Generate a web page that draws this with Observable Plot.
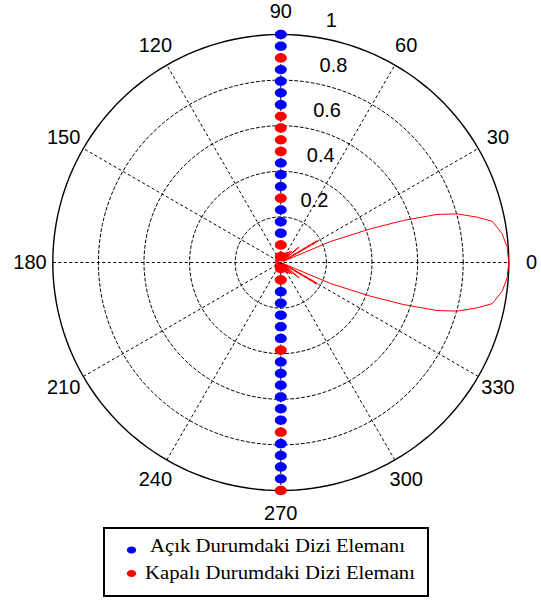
<!DOCTYPE html>
<html><head><meta charset="utf-8">
<script src="https://cdn.jsdelivr.net/npm/d3@7"></script>
<script src="https://cdn.jsdelivr.net/npm/@observablehq/plot@0.6"></script>
<style>
body{margin:0;background:#fff;}
#chart{position:relative;width:541px;height:600px;background:#fff;}
#legend{position:absolute;left:0;top:520px;}
</style></head><body><div id="chart"></div>
<script>
// ---- data ----
const angleTicks = [0, 30, 60, 90, 120, 150, 180, 210, 240, 270, 300, 330];
const radiusTicks = [0.2, 0.4, 0.6, 0.8, 1];
// radiation pattern, upper half (degrees, normalized radius); pattern is symmetric about 0°
const patternAngle = [0, 3.9, 7.4, 11.0, 13.0, 15.4, 17.1, 18.9, 20.6, 22.9, 24.5, 27, 29.8, 31.2, 33.5, 36, 39.5, 41, 43, 46, 48.5, 51, 54, 57, 60, 63, 66, 70, 74, 78, 83, 88, 94, 100, 107, 114, 121, 128, 136, 144, 152, 160, 168, 175, 180];
const patternRadius = [1.0, 0.995, 0.979, 0.945, 0.884, 0.803, 0.717, 0.57, 0.42, 0.237, 0.012, 0.03, 0.186, 0.184, 0.015, 0.02, 0.104, 0.1, 0.01, 0.07, 0.008, 0.065, 0.01, 0.055, 0.008, 0.05, 0.01, 0.04, 0.008, 0.035, 0.01, 0.03, 0.008, 0.03, 0.01, 0.03, 0.008, 0.028, 0.01, 0.03, 0.008, 0.028, 0.01, 0.025, 0.02];
// array element positions along the 90°–270° axis (normalized)
const elementPos = [1.000, 0.949, 0.897, 0.846, 0.795, 0.744, 0.692, 0.641, 0.590, 0.538, 0.487, 0.436, 0.385, 0.333, 0.282, 0.231, 0.179, 0.128, 0.077, 0.026,
  -0.026, -0.077, -0.128, -0.179, -0.231, -0.282, -0.333, -0.385, -0.436, -0.487, -0.538, -0.590, -0.641, -0.692, -0.744, -0.795, -0.846, -0.897, -0.949, -1.000];
// 1 = açık (on, blue), 0 = kapalı (off, red)
const elementState = [1, 1, 0, 1, 1, 1, 1, 0, 0, 0, 0, 1, 1, 1, 0, 1, 1, 1, 0, 0,
  0, 0, 1, 1, 1, 1, 1, 0, 1, 1, 1, 1, 1, 1, 0, 1, 1, 1, 1, 0];
const legendLabels = ["Açık Durumdaki Dizi Elemanı", "Kapalı Durumdaki Dizi Elemanı"];
const stateColors = ["#ff0000", "#0000ff"];

// ---- layout ----
const W = 541, H = 520, R = 228, cx = 280.3, cy = 262;
const rad = d => d * Math.PI / 180;
const px = (r, a) => r * Math.cos(rad(a));
const py = (r, a) => r * Math.sin(rad(a));

const half = patternAngle.map((a, i) => ({a, r: patternRadius[i]}));
const pattern = half.concat(half.slice(0, -1).reverse().map(d => ({a: -d.a, r: d.r})));
const circles = radiusTicks.flatMap(r => d3.range(0, 361, 2).map(a => ({r, a})));
const elements = elementPos.map((p, i) => ({p, s: elementState[i]}));

const ellipse = {draw(ctx) {
  const rx = 6, ry = 4.7, k = 0.5523;
  ctx.moveTo(rx, 0);
  ctx.bezierCurveTo(rx, ry * k, rx * k, ry, 0, ry);
  ctx.bezierCurveTo(-rx * k, ry, -rx, ry * k, -rx, 0);
  ctx.bezierCurveTo(-rx, -ry * k, -rx * k, -ry, 0, -ry);
  ctx.bezierCurveTo(rx * k, -ry, rx, -ry * k, rx, 0);
  ctx.closePath();
}};

const chart = Plot.plot({
  width: W, height: H, margin: 0,
  x: {domain: [-cx / R, (W - cx) / R], axis: null},
  y: {domain: [-(H - cy) / R, cy / R], axis: null},
  color: {type: "identity"},
  style: {fontFamily: "'Liberation Sans', Arial, sans-serif", background: "white", overflow: "visible"},
  marks: [
    Plot.line(circles.filter(d => d.r < 1), {x: d => px(d.r, d.a), y: d => py(d.r, d.a), z: "r", stroke: "black", strokeWidth: 1, strokeDasharray: "3,2.5"}),
    Plot.link(angleTicks.filter(a => a < 180), {x1: a => px(-1, a), y1: a => py(-1, a), x2: a => px(1, a), y2: a => py(1, a), stroke: "black", strokeWidth: 1, strokeDasharray: "3,2.5"}),
    Plot.line(circles.filter(d => d.r === 1), {x: d => px(d.r, d.a), y: d => py(d.r, d.a), stroke: "black", strokeWidth: 1.4}),
    Plot.text(angleTicks, {x: a => px(1.1, a), y: a => py(1.1, a), text: a => String(a), fontSize: 20, lineAnchor: "middle"}),
    Plot.text(radiusTicks, {x: r => px(r + 0.01, 82), y: r => py(r + 0.01, 82), text: r => String(r), fontSize: 20, textAnchor: "start", lineAnchor: "middle", dx: 13, dy: -14}),
    Plot.dot(elements, {x: () => 0, y: d => d.p, fill: d => stateColors[d.s], symbol: ellipse, stroke: "none"}),
    Plot.line(pattern, {x: d => px(d.r, d.a), y: d => py(d.r, d.a), stroke: "#ff0000", strokeWidth: 1, curve: "linear"})
  ]
});
const root = document.getElementById("chart");
root.appendChild(chart);

// legend (below the plot)
const ns = "http://www.w3.org/2000/svg";
const lg = document.createElementNS(ns, "svg");
lg.setAttribute("id", "legend");
lg.setAttribute("width", W); lg.setAttribute("height", 80);
const box = document.createElementNS(ns, "rect");
Object.entries({x: 104, y: 8, width: 324, height: 68, fill: "white", stroke: "black", "stroke-width": 2}).forEach(([k, v]) => box.setAttribute(k, v));
lg.appendChild(box);
const rows = [{y: 30, c: stateColors[1], tx: 150, tl: 255, by: 32}, {y: 53.5, c: stateColors[0], tx: 145, tl: 270, by: 58.5}];
legendLabels.forEach((lab, i) => {
  const r = rows[i];
  const e = document.createElementNS(ns, "ellipse");
  Object.entries({cx: 131.5, cy: r.y, rx: 4.7, ry: 3.5, fill: r.c}).forEach(([k, v]) => e.setAttribute(k, v));
  lg.appendChild(e);
  const t = document.createElementNS(ns, "text");
  Object.entries({x: r.tx, y: r.by, "font-family": "'Liberation Serif', 'Times New Roman', serif", "font-size": 18.5, textLength: r.tl, lengthAdjust: "spacingAndGlyphs", fill: "black"}).forEach(([k, v]) => t.setAttribute(k, v));
  t.textContent = lab;
  lg.appendChild(t);
});
root.appendChild(lg);
</script>
</body></html>
